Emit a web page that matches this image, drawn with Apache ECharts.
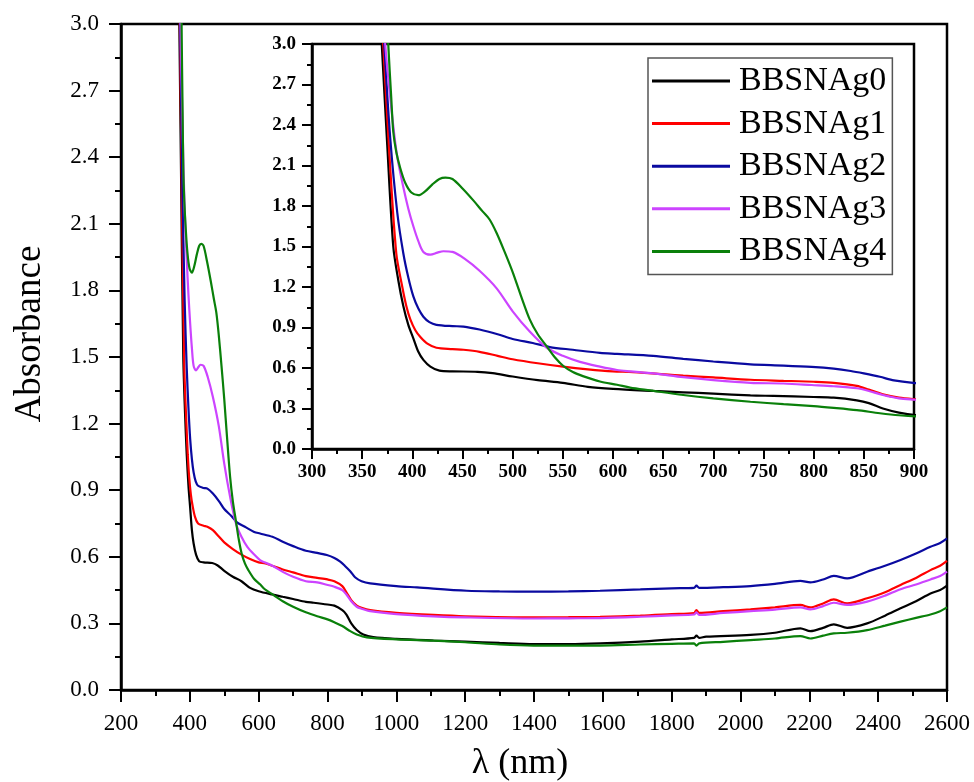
<!DOCTYPE html>
<html>
<head>
<meta charset="utf-8">
<script src="https://cdn.jsdelivr.net/npm/echarts@6/dist/echarts.min.js"></script>
<style>html,body{margin:0;padding:0;background:#fff}#c{width:974px;height:782px}</style>
</head>
<body>
<div id="c"></div>
<script>
const seriesNames = ['BBSNAg0','BBSNAg1','BBSNAg2','BBSNAg3','BBSNAg4'];
const seriesColors = ['#000000','#FF0000','#0A0AA0','#CC44FF','#0A800A'];
const mainXTicks = [200,400,600,800,1000,1200,1400,1600,1800,2000,2200,2400,2600];
const insetXTicks = [300,350,400,450,500,550,600,650,700,750,800,850,900];
const yTicks = [0.0,0.3,0.6,0.9,1.2,1.5,1.8,2.1,2.4,2.7,3.0];

const BBSNAg0 = [[362,4.0],[369.5,3.0],[375,2.25],[381,1.5],[386,1.25],[391,1.06],[396,0.92],[401,0.82],[406,0.72],[411,0.66],[418,0.61],[427,0.58],[440,0.575],[465,0.572],[480,0.562],[500,0.537],[525,0.51],[550,0.49],[575,0.46],[600,0.445],[640,0.43],[670,0.42],[700,0.41],[737,0.397],[760,0.393],[800,0.385],[820,0.38],[843,0.36],[855,0.34],[869,0.30],[885,0.27],[904,0.25],[933,0.238],[1000,0.23],[1108,0.223],[1200,0.218],[1300,0.212],[1399,0.207],[1500,0.207],[1592,0.21],[1709,0.218],[1800,0.228],[1865,0.235],[1872,0.245],[1880,0.235],[1900,0.24],[2029,0.248],[2100,0.258],[2174,0.278],[2203,0.265],[2240,0.28],[2271,0.296],[2310,0.28],[2368,0.30],[2420,0.335],[2465,0.368],[2510,0.40],[2552,0.435],[2580,0.45],[2600,0.47]];
const BBSNAg1 = [[364,4.0],[371,3.0],[377,2.2],[384,1.45],[390,1.2],[394,1.06],[398,0.96],[403,0.88],[408,0.83],[415,0.78],[424,0.75],[440,0.74],[451,0.735],[467,0.72],[485,0.69],[500,0.665],[525,0.635],[550,0.61],[575,0.59],[600,0.575],[620,0.57],[670,0.543],[700,0.53],[737,0.513],[770,0.505],[800,0.498],[820,0.49],[843,0.468],[855,0.44],[869,0.405],[885,0.38],[899,0.37],[924,0.36],[1000,0.348],[1108,0.338],[1200,0.332],[1399,0.327],[1500,0.328],[1592,0.33],[1709,0.335],[1800,0.342],[1865,0.347],[1872,0.36],[1880,0.347],[1950,0.355],[2029,0.363],[2100,0.372],[2174,0.383],[2203,0.372],[2240,0.39],[2271,0.408],[2310,0.39],[2368,0.413],[2420,0.44],[2465,0.473],[2510,0.505],[2552,0.54],[2580,0.56],[2600,0.582]];
const BBSNAg2 = [[365,4.0],[372,3.0],[378,2.3],[385,1.75],[391,1.45],[396,1.27],[401,1.13],[406,1.04],[411,0.98],[417,0.94],[424,0.92],[440,0.91],[451,0.907],[467,0.885],[485,0.85],[500,0.815],[520,0.785],[537,0.755],[560,0.735],[587,0.712],[604,0.705],[640,0.69],[670,0.668],[700,0.648],[737,0.627],[770,0.618],[798,0.608],[820,0.595],[837,0.578],[850,0.56],[866,0.535],[880,0.508],[899,0.49],[924,0.48],[1000,0.468],[1060,0.462],[1205,0.447],[1300,0.444],[1399,0.443],[1500,0.444],[1592,0.447],[1709,0.453],[1800,0.458],[1865,0.46],[1872,0.47],[1880,0.46],[1950,0.463],[2029,0.468],[2100,0.478],[2174,0.492],[2203,0.485],[2240,0.498],[2271,0.514],[2310,0.503],[2368,0.533],[2420,0.56],[2465,0.586],[2510,0.615],[2552,0.645],[2580,0.662],[2600,0.683]];
const BBSNAg3 = [[366,4.0],[373,3.0],[378,2.6],[384.4,2.19],[391,1.94],[396,1.78],[401,1.65],[406,1.54],[411,1.46],[418,1.44],[425,1.455],[431,1.465],[440,1.46],[452,1.41],[467,1.32],[484,1.19],[500,1.02],[517,0.87],[534,0.75],[550,0.69],[567,0.645],[587,0.61],[604,0.585],[617,0.575],[640,0.56],[670,0.532],[700,0.51],[737,0.49],[770,0.485],[798,0.474],[820,0.465],[843,0.45],[855,0.43],[869,0.40],[885,0.375],[899,0.366],[924,0.355],[1000,0.342],[1108,0.332],[1200,0.327],[1399,0.322],[1500,0.323],[1592,0.324],[1709,0.33],[1800,0.336],[1865,0.34],[1872,0.35],[1880,0.338],[1950,0.347],[2029,0.355],[2100,0.362],[2174,0.372],[2203,0.363],[2240,0.378],[2271,0.393],[2310,0.383],[2368,0.398],[2420,0.425],[2465,0.454],[2510,0.475],[2552,0.498],[2580,0.513],[2600,0.533]];
const BBSNAg4 = [[370,4.0],[376,3.0],[379,2.6],[381,2.35],[384,2.2],[388,2.08],[393,1.97],[399,1.9],[406,1.88],[413,1.91],[420,1.96],[427,2.0],[433,2.01],[440,2.0],[450,1.93],[461,1.84],[470,1.76],[477,1.7],[484,1.6],[492,1.46],[500,1.31],[508,1.14],[517,0.96],[525,0.85],[534,0.76],[542,0.68],[550.5,0.615],[560,0.57],[570,0.54],[587,0.50],[604,0.476],[617,0.455],[637,0.434],[670,0.40],[700,0.375],[737,0.35],[770,0.332],[800,0.318],[820,0.305],[843,0.288],[866,0.265],[885,0.25],[914,0.237],[1000,0.228],[1108,0.222],[1200,0.215],[1300,0.205],[1399,0.20],[1500,0.2],[1592,0.2],[1709,0.205],[1800,0.208],[1865,0.21],[1872,0.20],[1880,0.21],[1950,0.217],[2029,0.225],[2100,0.232],[2174,0.243],[2203,0.232],[2240,0.245],[2271,0.255],[2310,0.258],[2368,0.27],[2420,0.29],[2465,0.308],[2510,0.325],[2552,0.34],[2580,0.355],[2600,0.372]];
const allData = [BBSNAg0,BBSNAg1,BBSNAg2,BBSNAg3,BBSNAg4];

const FONT = "'Liberation Serif','Times New Roman',serif";
const chart = echarts.init(document.getElementById('c'), null, {renderer:'canvas'});

function axisCommon(opts){
  return Object.assign({
    type:'value',
    axisLine:{show:true,onZero:false,lineStyle:{color:'#000',width:2.5}},
    splitLine:{show:false},
    minorTick:{show:true,splitNumber:2,length:6,lineStyle:{color:'#000',width:2}},
    axisTick:{show:true,inside:false,length:12,lineStyle:{color:'#000',width:2}}
  }, opts);
}

const series = [];
allData.forEach((d,i)=>{
  series.push({name:seriesNames[i],type:'line',xAxisIndex:0,yAxisIndex:0,data:d,symbol:'none',smooth:0.3,
    lineStyle:{color:seriesColors[i],width:2.2},itemStyle:{color:seriesColors[i]},clip:true,z:3});
});
allData.forEach((d,i)=>{
  series.push({name:seriesNames[i],type:'line',xAxisIndex:1,yAxisIndex:1,data:d,symbol:'none',smooth:0.3,
    lineStyle:{color:seriesColors[i],width:2.2},itemStyle:{color:seriesColors[i]},clip:true,z:5});
});

chart.setOption({
  backgroundColor:'#fff',
  animation:false,
  grid:[
    {left:121,top:24,right:27,bottom:92,show:true,borderColor:'#000',borderWidth:2.5,backgroundColor:'transparent',outerBoundsMode:'none',containLabel:false},
    {left:312,top:44,right:60,bottom:333,show:true,borderColor:'#000',borderWidth:2.5,backgroundColor:'#fff',z:4,outerBoundsMode:'none',containLabel:false}
  ],
  xAxis:[
    axisCommon({gridIndex:0,min:mainXTicks[0],max:mainXTicks[mainXTicks.length-1],interval:200,
      name:'λ (nm)',nameLocation:'middle',nameGap:56,
      nameTextStyle:{fontFamily:FONT,fontSize:36,color:'#000',padding:[0,28,0,0]},
      axisLabel:{fontFamily:FONT,fontSize:23,color:'#000',margin:22,formatter:v=>String(v)}}),
    axisCommon({gridIndex:1,min:insetXTicks[0],max:insetXTicks[insetXTicks.length-1],interval:50,z:6,
      axisTick:{show:true,length:10,lineStyle:{color:'#000',width:2}},
      minorTick:{show:true,splitNumber:2,length:5,lineStyle:{color:'#000',width:2}},
      axisLabel:{fontFamily:FONT,fontSize:19,fontWeight:'bold',color:'#000',margin:14,formatter:v=>String(v)}})
  ],
  yAxis:[
    axisCommon({gridIndex:0,min:yTicks[0],max:yTicks[yTicks.length-1],interval:0.3,
      name:'Absorbance',nameLocation:'middle',nameGap:72,
      nameTextStyle:{fontFamily:FONT,fontSize:37,color:'#000',padding:[0,0,0,46]},
      axisLabel:{fontFamily:FONT,fontSize:23,color:'#000',margin:22,formatter:v=>v.toFixed(1)}}),
    axisCommon({gridIndex:1,min:yTicks[0],max:yTicks[yTicks.length-1],interval:0.3,z:6,
      axisTick:{show:true,length:10,lineStyle:{color:'#000',width:2}},
      minorTick:{show:true,splitNumber:2,length:5,lineStyle:{color:'#000',width:2}},
      axisLabel:{fontFamily:FONT,fontSize:19,fontWeight:'bold',color:'#000',margin:16,formatter:v=>v.toFixed(1)}})
  ],
  legend:{
    show:true,orient:'vertical',left:648,top:58,
    data:seriesNames,
    icon:'rect',
    itemWidth:78,itemHeight:3,itemGap:8.6,
    padding:[6,6,6,4],
    borderColor:'#555',borderWidth:1.5,backgroundColor:'#fff',
    textStyle:{fontFamily:FONT,fontSize:34,color:'#000',padding:[0,0,0,4]},
    z:10
  },
  series:series
});
</script>
</body>
</html>
